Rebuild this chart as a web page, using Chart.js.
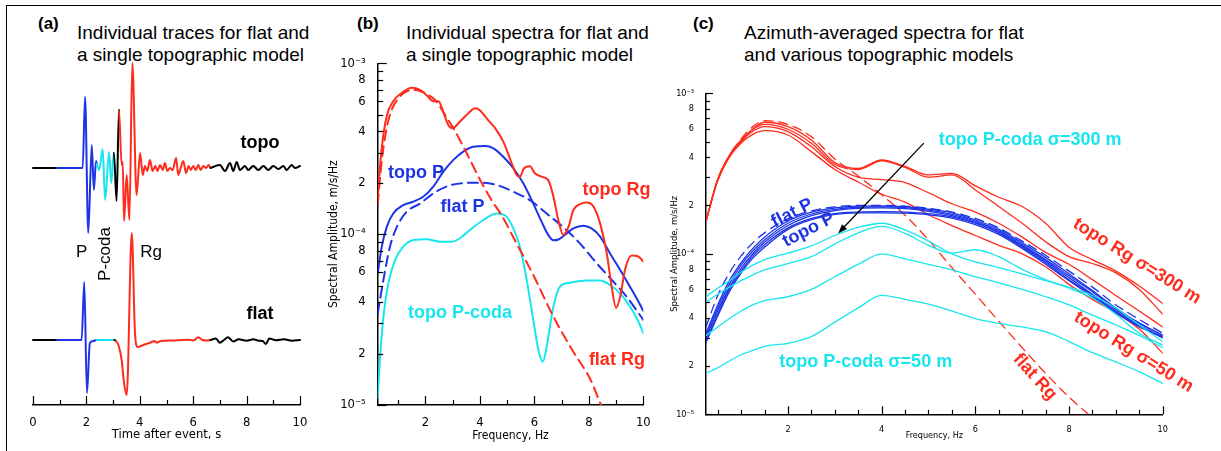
<!DOCTYPE html>
<html>
<head>
<meta charset="utf-8">
<script src="https://cdn.jsdelivr.net/npm/chart.js@4.4.1/dist/chart.umd.min.js"></script>
<style>
  html, body { margin: 0; padding: 0; background: #fff; }
  #page { position: relative; width: 1221px; height: 451px; overflow: hidden; background: #fff;
          font-family: "Liberation Sans", Arial, sans-serif; color: #000; }
  canvas { position: absolute; }
  .frame { position: absolute; left: 6px; top: 5px; width: 1240px; height: 470px;
           border-top: 1.5px solid #000; border-left: 1.5px solid #000; }
  .tag { position: absolute; top: 14px; font-weight: bold; font-size: 17px; line-height: 20px; }
  .head { position: absolute; top: 22px; font-size: 19px; line-height: 22px; white-space: nowrap; }
</style>
</head>
<body>
<div id="page">
  <div class="frame"></div>
  <div class="tag" style="left:38px">(a)</div>
  <div class="head" style="left:77px">Individual traces for flat and<br>a single topographic model</div>
  <div class="tag" style="left:357px">(b)</div>
  <div class="head" style="left:406px">Individual spectra for flat and<br>a single topographic model</div>
  <div class="tag" style="left:693px">(c)</div>
  <div class="head" style="left:744px">Azimuth-averaged spectra for flat<br>and various topographic models</div>
  <canvas id="chartA" width="320" height="411" style="left:0px;top:40px"></canvas>
  <canvas id="chartB" width="360" height="411" style="left:300px;top:40px"></canvas>
  <canvas id="chartC" width="561" height="371" style="left:660px;top:80px"></canvas>
</div>
<script>
// ---------- panel (a): traces, time in s, amplitude in plot units ----------
const traceTicks = [0, 1, 2, 3, 4, 5, 6, 7, 8, 9, 10];

const topoTime = [0, 0.9, 1.86, 1.95, 2.07, 2.20, 2.28, 2.36, 2.39, 2.48, 2.61, 2.70, 2.85, 2.93,
  3.03, 3.13, 3.22, 3.32, 3.36, 3.41, 3.51, 3.61, 3.72, 3.88, 4.01, 4.11, 4.19, 4.28, 4.38, 4.48,
  4.58, 4.66, 4.76, 4.86, 4.94, 5.03, 5.13, 5.23, 5.36, 5.44, 5.53, 5.63, 5.73, 5.83, 5.91, 6.00,
  6.10, 6.19, 6.28, 6.38, 6.48, 6.58, 6.65, 6.74, 7.0, 7.19, 7.38, 7.5, 7.63, 7.75, 7.94, 8.06,
  8.25, 8.44, 8.63, 8.81, 9.0, 9.19, 9.38, 9.5, 9.69, 9.81, 10];
const topoAmp = [0, 0, 0, 71, -65, 23, -22, 7, 4, -2, 19, -32, 16, -15,
  15, -33, 58, 3, 6, -53, -7, -52, 105, -27, 15, -7, 2, -3, 8, -3,
  2, -3, 3, -2, 5, -3, 0, -2, 10, -7, 0, 7, -5, 2, -2, 2,
  -2, 3, -2, 2, 0, 3, 0, 1, 3, -3, 5, -3, 6, -2, 2, -2,
  2, -2, 2, -2, 2, -1, 2, -2, 3, 0, 2];

const flatTime = [0, 0.9, 1.82, 1.92, 2.02, 2.13, 2.25, 2.39, 2.7, 3.05, 3.1, 3.2, 3.32, 3.41, 3.51,
  3.70, 3.82, 3.92, 4.13, 4.38, 4.55, 4.62, 4.8, 5.2, 5.8, 6.0, 6.19, 6.35, 6.5, 6.65, 6.85, 7.0,
  7.15, 7.3, 7.5, 7.7, 8.0, 8.25, 8.45, 8.6, 8.72, 8.85, 9.1, 9.4, 9.7, 10];
const flatAmp = [0, 0, 0, 58, -53, -3, -1, 0, 0, 0, -1, -5, -20, -43, -55,
  107, 7, -7, -5, -2.7, -1, -2.5, -1, -0.5, 0.3, -0.5, 2.7, 0, -0.5, 0, 1.5, -2.7,
  0, 2.7, -1.5, 0.7, -0.7, 0.7, -0.7, -1, -4, 1.5, -0.3, 0.7, -0.7, 0];

// phase windows along each trace: [start time, phase]
const topoPhases = [[0, 'none'], [0.9, 'P'], [2.39, 'coda'], [3.03, 'none'], [3.2, 'Rg'], [6.65, 'none']];
const flatPhases = [[0, 'none'], [0.9, 'P'], [2.39, 'coda'], [3.05, 'none'], [3.1, 'Rg'], [6.65, 'none']];

// ---------- panel (b): single-model spectra, frequency in Hz, amplitude x1e-4 m/s/Hz ----------
const bTopoRgF = [0.25, 0.39, 0.58, 0.82, 1.13, 1.5, 1.8, 2.05, 2.29, 2.48, 2.66, 2.84, 3.0, 3.27, 3.58,
  3.82, 4.01, 4.25, 4.56, 4.86, 5.17, 5.35, 5.47, 5.62, 5.84, 6.02, 6.27, 6.51, 6.7, 6.88, 7.06, 7.25,
  7.43, 7.68, 7.92, 8.17, 8.41, 8.66, 8.84, 9.0, 9.15, 9.33, 9.57, 9.82, 10];
const bTopoRg = [1.66, 3.1, 4.9, 6.0, 6.7, 7.2, 7.0, 6.5, 6.0, 6.0, 5.2, 4.35, 4.17, 4.56, 5.1,
  5.45, 5.3, 4.76, 4.17, 3.48, 2.6, 2.22, 2.17, 2.43, 2.5, 2.27, 2.17, 2.07, 1.66, 1.21, 0.99, 1.1,
  1.38, 1.5, 1.53, 1.45, 1.16, 0.77, 0.49, 0.37, 0.43, 0.62, 0.75, 0.74, 0.69];

const bFlatRgF = [0.25, 0.4, 0.58, 0.76, 1.01, 1.25, 1.5, 1.8, 2.11, 2.41, 2.72, 3.03, 3.33, 3.64,
  4.07, 4.43, 4.8, 5.35, 5.96, 6.7, 7.43, 8.04, 8.45, 8.6];
const bFlatRg = [1.5, 2.7, 4.17, 5.33, 6.24, 6.76, 6.98, 6.89, 6.53, 5.97, 4.99, 4.17, 3.4, 2.72,
  1.99, 1.58, 1.29, 0.88, 0.577, 0.329, 0.205, 0.143, 0.1, 0.088];

const bTopoPF = [0.25, 0.4, 0.58, 0.82, 1.19, 1.56, 1.93, 2.29, 2.66, 3.03, 3.39, 3.76, 4.19, 4.5, 4.86,
  5.23, 5.59, 5.96, 6.27, 6.51, 6.7, 6.88, 7.12, 7.43, 7.8, 8.1, 8.41, 8.78, 9.15, 9.51, 9.76, 10];
const bTopoP = [0.59, 0.845, 1.1, 1.32, 1.48, 1.55, 1.66, 1.9, 2.32, 2.72, 3.04, 3.25, 3.28, 3.18, 2.84,
  2.43, 1.99, 1.51, 1.18, 0.99, 0.92, 0.93, 0.99, 1.08, 1.12, 1.08, 0.97, 0.77, 0.617, 0.493, 0.42, 0.356];

const bFlatPF = [0.25, 0.46, 0.7, 0.95, 1.31, 1.8, 2.29, 2.78, 3.39, 4.01, 4.62, 5.23, 5.84, 6.45,
  7.06, 7.68, 8.29, 8.9, 9.39, 10];
const bFlatP = [0.344, 0.54, 0.845, 1.1, 1.35, 1.51, 1.73, 1.9, 1.99, 2.0, 1.94, 1.77, 1.58, 1.32,
  1.1, 0.88, 0.675, 0.527, 0.43, 0.315];

const bCodaF = [0.25, 0.33, 0.46, 0.64, 0.89, 1.19, 1.56, 2.05, 2.54, 2.97, 3.27, 3.64, 4.13, 4.62, 4.92,
  5.23, 5.47, 5.72, 5.96, 6.15, 6.31, 6.45, 6.7, 6.94, 7.31, 7.92, 8.41, 8.78, 9.15, 9.51, 9.82, 10];
const bCoda = [0.11, 0.183, 0.329, 0.515, 0.706, 0.845, 0.925, 0.933, 0.904, 0.904, 0.946, 1.06, 1.21, 1.32, 1.29,
  1.08, 0.845, 0.54, 0.315, 0.21, 0.179, 0.219, 0.377, 0.493, 0.52, 0.535, 0.535, 0.504, 0.45, 0.377, 0.308, 0.263];

// ---------- panel (c): azimuth-averaged spectra on a common frequency grid ----------
const cFreq = [0.25, 0.5, 0.75, 1, 1.25, 1.5, 2, 2.5, 3, 3.5, 4, 4.5, 5, 5.5, 6, 6.5, 7, 7.5, 8, 8.5, 9, 9.5, 10];

// Rg, x1e-4
const cRgTopo = [
  [1.6, 2.9, 4.1, 5.1, 6.0, 6.6, 6.2, 5.12, 3.7, 3.4, 3.85, 3.5, 3.1, 3.17, 2.65, 2.25, 1.97, 1.55, 1.1, 0.92, 0.78, 0.63, 0.49],
  [1.6, 2.9, 4.1, 5.1, 5.95, 6.4, 5.97, 4.88, 3.6, 3.35, 3.8, 3.45, 3.0, 3.1, 2.5, 1.97, 1.55, 1.19, 0.96, 0.87, 0.76, 0.6, 0.42],
  [1.6, 2.9, 4.05, 5.0, 5.8, 6.2, 5.77, 4.65, 3.5, 3.0, 2.9, 2.78, 2.4, 2.05, 1.82, 1.55, 1.27, 1.02, 0.86, 0.69, 0.55, 0.44, 0.35],
  [1.6, 2.85, 4.0, 4.9, 5.55, 5.85, 5.5, 4.33, 3.35, 2.8, 2.35, 2.1, 1.75, 1.5, 1.3, 1.13, 1.0, 0.83, 0.645, 0.52, 0.43, 0.34, 0.24]
];
const cRgFlat = [1.6, 2.9, 4.1, 5.2, 6.2, 6.75, 6.4, 5.37, 3.9, 3.05, 2.33, 1.74, 1.22, 0.82, 0.56, 0.38, 0.26, 0.18, 0.128, 0.095];

// P, x1e-4
const cPTopo = [
  [0.32, 0.48, 0.68, 0.88, 1.08, 1.27, 1.6, 1.82, 1.93, 1.98, 1.99, 1.97, 1.9, 1.8, 1.63, 1.42, 1.17, 0.95, 0.75, 0.59, 0.46, 0.37, 0.31],
  [0.31, 0.46, 0.65, 0.85, 1.04, 1.22, 1.55, 1.77, 1.89, 1.95, 1.96, 1.94, 1.87, 1.76, 1.6, 1.39, 1.14, 0.92, 0.73, 0.58, 0.45, 0.37, 0.31],
  [0.30, 0.44, 0.62, 0.81, 1.0, 1.18, 1.5, 1.73, 1.86, 1.92, 1.93, 1.91, 1.84, 1.73, 1.57, 1.36, 1.12, 0.9, 0.71, 0.56, 0.44, 0.36, 0.30],
  [0.29, 0.42, 0.6, 0.78, 0.97, 1.14, 1.45, 1.66, 1.78, 1.82, 1.83, 1.82, 1.78, 1.7, 1.55, 1.35, 1.1, 0.88, 0.69, 0.55, 0.43, 0.355, 0.30],
  [0.28, 0.41, 0.58, 0.76, 0.94, 1.1, 1.42, 1.63, 1.76, 1.8, 1.8, 1.79, 1.75, 1.67, 1.52, 1.32, 1.08, 0.86, 0.68, 0.54, 0.43, 0.35, 0.305]
];
const cPFlat = [0.35, 0.55, 0.76, 0.97, 1.17, 1.35, 1.65, 1.85, 1.96, 2.0, 2.0, 1.98, 1.92, 1.82, 1.66, 1.45, 1.2, 0.98, 0.78, 0.62, 0.48, 0.39, 0.32];

// P-coda, x1e-5
const cCodaTopo = [
  [5.4, 6.1, 6.8, 7.7, 8.5, 9.2, 10.1, 11.2, 13.0, 14.6, 15.5, 14.1, 12.0, 10.0, 8.9, 8.2, 7.5, 6.8, 6.2, 5.5, 4.6, 3.6, 2.84],
  [5.0, 5.6, 6.2, 6.8, 7.4, 7.95, 8.7, 9.6, 11.5, 13.5, 14.8, 13.4, 11.3, 10.1, 10.6, 9.6, 8.0, 6.9, 6.1, 5.3, 4.2, 3.2, 2.7],
  [3.1, 3.5, 3.95, 4.4, 4.8, 5.1, 5.4, 6.0, 7.2, 8.6, 10.0, 9.3, 8.6, 7.95, 7.2, 6.6, 6.0, 5.4, 4.8, 4.15, 3.6, 3.1, 2.6],
  [1.8, 1.95, 2.15, 2.35, 2.5, 2.65, 2.77, 3.05, 3.75, 4.6, 5.5, 5.2, 4.85, 4.4, 3.95, 3.68, 3.5, 3.27, 2.84, 2.42, 2.12, 1.84, 1.56]
];

// tick values
const freqTicksB = [1, 2, 3, 4, 5, 6, 7, 8, 9, 10];
const freqTicksC = [0.5, 1, 1.5, 2, 2.5, 3, 3.5, 4, 4.5, 5, 5.5, 6, 6.5, 7, 7.5, 8, 8.5, 9, 9.5, 10];
const ampDecades = [-5, -4];
const ampMantissas = [1, 2, 3, 4, 5, 6, 7, 8, 9];
const ampLabelled = [2, 4, 6, 8];
const ampTicks = ampDecades.flatMap(e => ampMantissas.map(m => m * Math.pow(10, e))).concat([1e-3]);

// ---------- look ----------
const RED = '#ff2b1c', BLUE = '#1c33e6', CYAN = '#17e6ef';
const phaseColour = { none: '#000', P: BLUE, coda: CYAN, Rg: RED };
const TOPO_SHIFT = 172;   // vertical offset of the topo trace above the flat one

function fontAvailable(name) {
  const c = document.createElement('canvas').getContext('2d');
  const probe = 'mmmmmmmmlli10Hz,';
  c.font = '32px monospace';
  const base = c.measureText(probe).width;
  c.font = '32px "' + name + '", monospace';
  return c.measureText(probe).width !== base;
}
let NARROW = '"Liberation Sans"', NK = 0.86;
if (fontAvailable('Liberation Sans Narrow')) { NARROW = '"Liberation Sans Narrow"'; NK = 1; }
else if (fontAvailable('DejaVu Sans Condensed')) { NARROW = '"DejaVu Sans Condensed"'; NK = 0.86; }
const BOLD = 'bold 18px "Liberation Sans", Arial, sans-serif';
const PLAIN = '17px "Liberation Sans", Arial, sans-serif';

const SUP = { '0': '⁰', '1': '¹', '2': '²', '3': '³', '4': '⁴', '5': '⁵', '6': '⁶', '7': '⁷', '8': '⁸', '9': '⁹', '-': '⁻' };
function ampLabel(v) {
  const e = Math.floor(Math.log10(v) + 1e-9);
  const m = Math.round(v / Math.pow(10, e));
  if (m === 1) return '10' + String(e).split('').map(ch => SUP[ch]).join('');
  return ampLabelled.includes(m) ? String(m) : '';
}
const evenLabel = v => (Math.abs(v / 2 - Math.round(v / 2)) < 1e-6 ? String(v) : '');

function xy(xs, ys, unit) {
  const k = unit || 1;
  return ys.map((y, i) => ({ x: xs[i], y: y * k }));
}
function pickPhase(phases, t) {
  let p = phases[0][1];
  phases.forEach(([t0, name]) => { if (t >= t0 - 1e-9) p = name; });
  return phaseColour[p];
}

// ticks drawn inside the plot, like the original figure
const innerTicks = {
  id: 'innerTicks',
  afterDraw(chart, args, opts) {
    const ctx = chart.ctx;
    ctx.save();
    ctx.strokeStyle = '#000';
    ctx.lineWidth = 1.2;
    ['x', 'y'].forEach(id => {
      const s = chart.scales[id], o = opts[id];
      if (!s || !o || !s.options.display) return;
      s.ticks.forEach(t => {
        let major;
        if (o.rule === 'decade') { const e = Math.log10(t.value); major = Math.abs(e - Math.round(e)) < 1e-6; }
        else major = Math.abs(t.value / 2 - Math.round(t.value / 2)) < 1e-6;
        const len = major ? o.major : o.minor;
        const p = Math.round(s.getPixelForValue(t.value)) + 0.5;
        ctx.beginPath();
        if (id === 'x') { ctx.moveTo(p, s.top); ctx.lineTo(p, s.top - len); }
        else { ctx.moveTo(s.right, p); ctx.lineTo(s.right + len, p); }
        ctx.stroke();
      });
    });
    ctx.restore();
  }
};

// curve labels and the arrow, placed in data coordinates
const textMarks = {
  id: 'textMarks',
  afterDatasetsDraw(chart, args, opts) {
    const ctx = chart.ctx, xs = chart.scales.x, ys = chart.scales.y;
    (opts.items || []).forEach(it => {
      ctx.save();
      ctx.translate(xs.getPixelForValue(it.x), ys.getPixelForValue(it.y));
      ctx.rotate((it.angle || 0) * Math.PI / 180);
      ctx.font = it.font;
      ctx.fillStyle = it.color;
      ctx.textAlign = 'center';
      ctx.textBaseline = 'middle';
      ctx.fillText(it.text, 0, 0);
      ctx.restore();
    });
    const a = opts.arrow;
    if (a) {
      const x1 = xs.getPixelForValue(a.x1), y1 = ys.getPixelForValue(a.y1);
      const x2 = xs.getPixelForValue(a.x2), y2 = ys.getPixelForValue(a.y2);
      const ang = Math.atan2(y2 - y1, x2 - x1), h = 10;
      ctx.save();
      ctx.strokeStyle = '#000'; ctx.fillStyle = '#000'; ctx.lineWidth = 1.3;
      ctx.beginPath(); ctx.moveTo(x1, y1);
      ctx.lineTo(x2 - 6 * Math.cos(ang), y2 - 6 * Math.sin(ang)); ctx.stroke();
      ctx.beginPath(); ctx.moveTo(x2, y2);
      ctx.lineTo(x2 - h * Math.cos(ang - 0.35), y2 - h * Math.sin(ang - 0.35));
      ctx.lineTo(x2 - h * Math.cos(ang + 0.35), y2 - h * Math.sin(ang + 0.35));
      ctx.closePath(); ctx.fill();
      ctx.restore();
    }
  }
};

function axisBase(extra) {
  return Object.assign({
    grid: { display: false },
    border: { display: true, color: '#000', width: 1.5 },
  }, extra);
}
function commonOptions(padding, plugins, scales) {
  return {
    responsive: false,
    animation: false,
    events: [],
    layout: { padding },
    elements: { point: { radius: 0 }, line: { cubicInterpolationMode: 'monotone', borderCapStyle: 'round' } },
    plugins: Object.assign({ legend: { display: false }, tooltip: { enabled: false } }, plugins),
    scales
  };
}

// ---------- chart (a) ----------
new Chart(document.getElementById('chartA'), {
  type: 'line',
  data: {
    datasets: [
      { data: xy(topoTime, topoAmp.map(a => a + TOPO_SHIFT)), borderColor: '#000', borderWidth: 2,
        segment: { borderColor: c => pickPhase(topoPhases, c.p0.parsed.x) }, clip: false },
      { data: xy(flatTime, flatAmp), borderColor: '#000', borderWidth: 2,
        segment: { borderColor: c => pickPhase(flatPhases, c.p0.parsed.x) }, clip: false }
    ]
  },
  options: commonOptions({ left: 33, right: 20, top: 20, bottom: 9 }, {
    innerTicks: { x: { rule: 'even', major: 9, minor: 5 } },
    textMarks: { items: [
      { text: 'topo', x: 8.5, y: 197, font: BOLD, color: '#000' },
      { text: 'flat', x: 8.5, y: 26, font: BOLD, color: '#000' },
      { text: 'P', x: 1.82, y: 88, font: PLAIN, color: '#000' },
      { text: 'Rg', x: 4.42, y: 88, font: PLAIN, color: '#000' },
      { text: 'P-coda', x: 2.70, y: 86, font: PLAIN, color: '#000', angle: -90 }
    ] }
  }, {
    x: axisBase({
      type: 'linear', min: 0, max: 10,
      afterBuildTicks: s => { s.ticks = traceTicks.map(v => ({ value: v })); },
      afterFit: s => { s.height = 37; },
      ticks: { padding: 2, color: '#000', autoSkip: false, maxRotation: 0,
               font: { family: NARROW, size: 15 * NK }, callback: evenLabel },
      title: { display: true, text: 'Time after event, s', color: '#000', padding: 0,
               font: { family: NARROW, size: 15 * NK } }
    }),
    y: { type: 'linear', min: -65, max: 280, display: false }
  }),
  plugins: [innerTicks, textMarks]
});

// ---------- chart (b) ----------
function spectrumAxes(xTicks, yW, xH, tickSize, titleSize, yTitleSize) {
  return {
    x: axisBase({
      type: 'linear', min: 0.25, max: 10,
      afterBuildTicks: s => { s.ticks = xTicks.map(v => ({ value: v })); },
      afterFit: s => { s.height = xH; },
      ticks: { padding: 2, color: '#000', autoSkip: false, maxRotation: 0,
               font: { family: NARROW, size: tickSize * NK }, callback: evenLabel },
      title: { display: true, text: 'Frequency, Hz', color: '#000', padding: 0,
               font: { family: NARROW, size: titleSize * NK } }
    }),
    y: axisBase({
      type: 'logarithmic', min: 1e-5, max: 1e-3,
      afterBuildTicks: s => { s.ticks = ampTicks.map(v => ({ value: v })); },
      afterFit: s => { s.width = yW; },
      ticks: { padding: 4, color: '#000', autoSkip: false,
               font: { family: NARROW, size: tickSize * NK }, callback: ampLabel },
      title: { display: true, text: 'Spectral Amplitude, m/s/Hz', color: '#000', padding: 0,
               font: { family: NARROW, size: yTitleSize * NK } }
    })
  };
}

new Chart(document.getElementById('chartB'), {
  type: 'line',
  data: {
    datasets: [
      { data: xy(bTopoRgF, bTopoRg, 1e-4), borderColor: RED, borderWidth: 2 },
      { data: xy(bFlatRgF, bFlatRg, 1e-4), borderColor: RED, borderWidth: 2, borderDash: [10, 6] },
      { data: xy(bTopoPF, bTopoP, 1e-4), borderColor: BLUE, borderWidth: 2 },
      { data: xy(bFlatPF, bFlatP, 1e-4), borderColor: BLUE, borderWidth: 2, borderDash: [10, 6] },
      { data: xy(bCodaF, bCoda, 1e-4), borderColor: CYAN, borderWidth: 2 }
    ]
  },
  options: commonOptions({ left: 26.7, right: 16.7, top: 23.3, bottom: 7.6 }, {
    innerTicks: { x: { rule: 'even', major: 9, minor: 5 }, y: { rule: 'decade', major: 9, minor: 5.5 } },
    textMarks: { items: [
      { text: 'topo P', x: 1.66, y: 2.28e-4, font: BOLD, color: BLUE },
      { text: 'flat P', x: 3.36, y: 1.44e-4, font: BOLD, color: BLUE },
      { text: 'topo Rg', x: 9.02, y: 1.81e-4, font: BOLD, color: RED },
      { text: 'topo P-coda', x: 3.27, y: 3.45e-5, font: BOLD, color: CYAN },
      { text: 'flat Rg', x: 9.03, y: 1.83e-5, font: BOLD, color: RED }
    ] }
  }, spectrumAxes(freqTicksB, 51, 38.4, 15, 14, 14)),
  plugins: [innerTicks, textMarks]
});

// ---------- chart (c) ----------
const cSets = [];
cCodaTopo.forEach(v => cSets.push({ data: xy(cFreq, v, 1e-5), borderColor: CYAN, borderWidth: 1.3 }));
cPTopo.forEach(v => cSets.push({ data: xy(cFreq, v, 1e-4), borderColor: BLUE, borderWidth: 1.3 }));
cSets.push({ data: xy(cFreq, cPFlat, 1e-4), borderColor: BLUE, borderWidth: 1.3, borderDash: [9, 6] });
cRgTopo.forEach(v => cSets.push({ data: xy(cFreq, v, 1e-4), borderColor: RED, borderWidth: 1.3 }));
cSets.push({ data: xy(cFreq, cRgFlat, 1e-4), borderColor: RED, borderWidth: 1.3, borderDash: [9, 6] });

new Chart(document.getElementById('chartC'), {
  type: 'line',
  data: { datasets: cSets },
  options: commonOptions({ left: 8.4, right: 58.3, top: 13.3, bottom: 10 }, {
    innerTicks: { x: { rule: 'even', major: 8, minor: 4.5 }, y: { rule: 'decade', major: 7, minor: 4 } },
    textMarks: {
      items: [
        { text: 'topo P-coda σ=300 m', x: 7.17, y: 5.12e-4, font: BOLD, color: CYAN },
        { text: 'topo P-coda σ=50 m', x: 3.66, y: 2.12e-5, font: BOLD, color: CYAN },
        { text: 'flat P', x: 2.09, y: 1.79e-4, font: BOLD, color: BLUE, angle: -27 },
        { text: 'topo P', x: 2.44, y: 1.41e-4, font: BOLD, color: BLUE, angle: -27 },
        { text: 'topo Rg σ=300 m', x: 9.45, y: 9.0e-5, font: BOLD, color: RED, angle: 32 },
        { text: 'topo Rg σ=50 m', x: 9.38, y: 2.44e-5, font: BOLD, color: RED, angle: 32 },
        { text: 'flat Rg', x: 7.27, y: 1.71e-5, font: BOLD, color: RED, angle: 48 }
      ],
      arrow: { x1: 4.90, y1: 4.89e-4, x2: 3.07, y2: 1.34e-4 }
    }
  }, spectrumAxes(freqTicksC, 37.6, 26.7, 10.5, 10.5, 11)),
  plugins: [innerTicks, textMarks]
});
</script>
</body>
</html>
